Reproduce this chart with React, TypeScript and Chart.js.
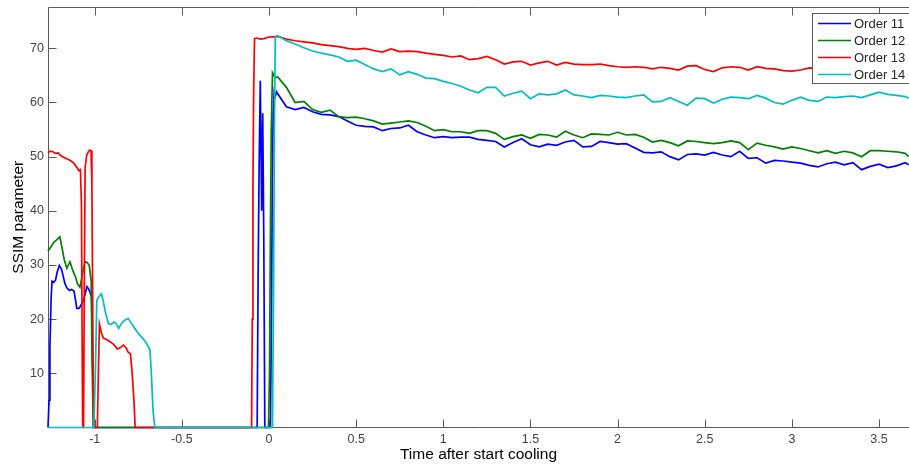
import React, { useEffect, useRef } from "react";
import { Chart, registerables } from "chart.js";

Chart.register(...registerables);

// ---- axes ----
const X_MIN = -1.268;
const X_MAX = 3.672;
const Y_MIN = 0;
const Y_MAX = 77.63;
const X_TICKS = [-1, -0.5, 0, 0.5, 1, 1.5, 2, 2.5, 3, 3.5];
const Y_TICKS = [10, 20, 30, 40, 50, 60, 70];
const X_TITLE = "Time after start cooling";
const Y_TITLE = "SSIM parameter";

const SERIES_NAMES = ["Order 11", "Order 12", "Order 13", "Order 14"];
const SERIES_COLORS = ["#0000ff", "#008000", "#ff0000", "#00bfbf"];

// ---- shared time grid for the long plateau part ----
const T_MAIN = [
  0.05, 0.1, 0.15, 0.2, 0.25, 0.3, 0.35, 0.4, 0.45, 0.5,
  0.55, 0.6, 0.65, 0.7, 0.75, 0.8, 0.85, 0.9, 0.95, 1.0,
  1.05, 1.1, 1.15, 1.2, 1.25, 1.3, 1.35, 1.4, 1.45, 1.5,
  1.55, 1.6, 1.65, 1.7, 1.75, 1.8, 1.85, 1.9, 1.95, 2.0,
  2.05, 2.1, 2.15, 2.2, 2.25, 2.3, 2.35, 2.4, 2.45, 2.5,
  2.55, 2.6, 2.65, 2.7, 2.75, 2.8, 2.85, 2.9, 2.95, 3.0,
  3.05, 3.1, 3.15, 3.2, 3.25, 3.3, 3.35, 3.4, 3.45, 3.5,
  3.55, 3.6, 3.65, 3.67,
];

// ---- Order 11 (blue) ----
const EARLY_T_11 = [
  -1.268, -1.262, -1.257, -1.25, -1.245, -1.235, -1.225, -1.215, -1.203, -1.19,
  -1.18, -1.171, -1.16, -1.145, -1.133, -1.119, -1.11, -1.103, -1.09, -1.084,
  -1.069, -1.056, -1.045, -1.035, -1.027, -1.018, -1.012, -1.004,
  -0.068, -0.062, -0.056, -0.05, -0.046, -0.042, -0.036, -0.03, -0.024,
  0.008, 0.014, 0.019, 0.024, 0.03, 0.036, 0.044,
];
const EARLY_V_11 = [
  0, 5, 15, 24, 27.0, 26.8, 27.2, 28.7, 29.9, 29.2,
  27.8, 26.6, 25.8, 25.3, 25.5, 25.2, 23.5, 22.0, 22.0, 22.3,
  23.2, 24.5, 26.0, 25.6, 25.0, 24.0, 12, 0,
  0, 30, 50, 64, 64, 40, 58, 35, 0,
  0, 20, 45, 58, 62, 61.2, 62.0,
];
const MAIN_V_11 = [
  61.6, 59.2, 58.7, 59.1, 58.3, 57.8, 57.7, 57.4, 56.6, 55.8,
  55.6, 55.5, 54.8, 55.2, 55.3, 55.8, 54.6, 54.0, 53.5, 53.7,
  53.5, 53.6, 53.6, 53.2, 53.0, 52.8, 51.8, 52.6, 53.3, 52.2,
  51.8, 52.3, 52.1, 52.7, 53.0, 51.8, 51.9, 52.8, 52.6, 52.3,
  52.4, 51.6, 50.8, 50.7, 50.9, 50.0, 49.4, 50.4, 50.5, 50.3,
  50.8, 50.3, 50.0, 51.0, 49.7, 49.8, 48.8, 49.3, 49.2, 49.0,
  48.8, 48.4, 48.1, 48.7, 49.0, 48.5, 48.9, 47.6, 48.2, 48.6,
  48.0, 48.3, 48.9, 48.5,
];

// ---- Order 12 (green) ----
const EARLY_T_12 = [
  -1.268, -1.25, -1.235, -1.22, -1.2, -1.19, -1.175, -1.16, -1.142, -1.125,
  -1.11, -1.1, -1.085, -1.075, -1.065, -1.055, -1.045, -1.032, -1.02, -1.015,
  -1.008, -0.003, 0.003, 0.008, 0.013, 0.02, 0.03, 0.04,
];
const EARLY_V_12 = [
  32.6, 33.4, 34.2, 34.6, 35.2, 33.6, 31.0, 29.4, 30.6, 28.9,
  27.8, 26.6, 25.9, 27.5, 29.3, 30.6, 30.5, 30.0, 27.0, 12,
  0, 0, 10, 35, 55, 65.5, 64.9, 64.6,
];
const MAIN_V_12 = [
  64.7, 62.8, 60.0, 60.2, 58.7, 58.2, 58.6, 57.4, 57.2, 57.3,
  57.0, 56.6, 56.0, 56.2, 56.4, 56.6, 56.3, 55.6, 54.8, 55.0,
  54.6, 54.6, 54.3, 54.8, 54.8, 54.3, 53.2, 53.7, 54.0, 53.4,
  54.1, 54.0, 53.6, 54.7, 54.0, 53.5, 54.2, 54.1, 54.0, 54.5,
  54.0, 54.1, 53.6, 52.7, 53.0, 52.6, 52.0, 52.9, 52.8, 52.6,
  52.4, 52.6, 52.9, 52.6, 51.3, 52.5, 52.1, 51.8, 51.4, 51.8,
  51.5, 51.1, 50.7, 51.1, 50.6, 51.0, 50.7, 50.0, 51.1, 51.1,
  51.0, 50.9, 50.6, 50.0,
];

// ---- Order 13 (red) ----
const EARLY_T_13 = [
  -1.268, -1.255, -1.24, -1.225, -1.21, -1.195, -1.18, -1.16, -1.14, -1.12,
  -1.1, -1.09, -1.082, -1.076, -1.072, -1.069, -1.064, -1.06, -1.055, -1.046,
  -1.031, -1.021, -1.016, -1.012, -1.007, -0.985, -0.979, -0.973, -0.962, -0.95,
  -0.93, -0.91, -0.89, -0.87, -0.855, -0.835, -0.82, -0.81, -0.795, -0.785,
  -0.775, -0.768, -0.1, -0.096, -0.092, -0.088, -0.083, -0.07, -0.05, -0.03,
  -0.01, 0.01, 0.03,
];
const EARLY_V_13 = [
  50.7, 51.0, 50.9, 50.6, 50.7, 50.2, 49.9, 49.6, 49.3, 48.8,
  47.9, 47.4, 47.6, 41, 15, 0, 0, 25, 48, 50.3,
  51.2, 51.1, 44.5, 25, 0, 0, 10, 19.1, 17.5, 16.5,
  16.2, 15.8, 15.3, 14.5, 14.7, 15.2, 14.7, 14.0, 13.6, 10,
  5, 0, 0, 20, 45, 62, 71.8, 71.9, 71.7, 71.8,
  72.0, 72.1, 72.1,
];
const MAIN_V_13 = [
  72.2, 71.7, 71.4, 71.2, 71.0, 70.7, 70.5, 70.3, 70.0, 69.8,
  70.0, 69.6, 69.3, 69.9, 69.4, 69.5, 69.4, 69.1, 68.9, 68.7,
  68.4, 68.6, 67.9, 68.1, 68.5, 67.9, 67.1, 67.5, 67.6, 66.9,
  67.3, 67.6, 66.9, 67.4, 67.1, 67.0, 67.0, 67.1, 66.8, 66.6,
  66.5, 66.6, 66.5, 66.2, 66.5, 66.3, 66.0, 66.7, 66.8, 66.1,
  65.7, 66.4, 66.6, 66.5, 66.0, 66.6, 66.3, 66.2, 65.9, 65.8,
  66.0, 66.4, 66.2, 66.0, 65.9, 66.1, 65.8, 66.0, 65.7, 65.9,
  65.8, 65.6, 65.8, 65.7,
];

// ---- Order 14 (cyan) ----
const EARLY_T_14 = [
  -1.268, -1.005, -0.995, -0.988, -0.975, -0.962, -0.952, -0.94, -0.922, -0.905,
  -0.89, -0.878, -0.862, -0.85, -0.835, -0.82, -0.807, -0.795, -0.78, -0.76,
  -0.74, -0.72, -0.7, -0.683, -0.675, -0.665, -0.655, 0.02, 0.026, 0.031,
  0.036, 0.043,
];
const EARLY_V_14 = [
  0, 0, 12, 23.5, 24.2, 24.7, 23.5, 21.5, 19.2, 19.0,
  19.5, 19.2, 18.3, 19.0, 19.6, 20.0, 20.1, 19.5, 18.8, 17.8,
  17.0, 16.3, 15.4, 14.3, 10, 3, 0, 0, 25, 55,
  72.0, 72.3,
];
const MAIN_V_14 = [
  72.3, 71.4, 70.8, 70.1, 69.5, 69.1, 68.8, 68.4, 67.6, 67.8,
  67.0, 66.2, 65.7, 66.2, 65.1, 65.7, 65.2, 64.5, 64.4, 63.9,
  63.5, 63.0, 62.3, 61.8, 62.8, 62.8, 61.2, 61.7, 62.1, 60.7,
  61.6, 61.4, 61.6, 62.3, 61.4, 61.2, 60.9, 61.3, 61.2, 61.0,
  60.9, 61.2, 61.4, 60.1, 60.2, 60.9, 60.2, 59.5, 60.8, 60.7,
  59.9, 60.6, 61.0, 60.9, 60.7, 61.3, 60.8, 60.0, 59.7, 60.4,
  61.0, 60.4, 60.2, 61.0, 60.9, 61.1, 61.2, 60.9, 61.4, 61.9,
  61.5, 61.3, 61.1, 60.8,
];

const SERIES_EARLY_T = [EARLY_T_11, EARLY_T_12, EARLY_T_13, EARLY_T_14];
const SERIES_EARLY_V = [EARLY_V_11, EARLY_V_12, EARLY_V_13, EARLY_V_14];
const SERIES_MAIN_V = [MAIN_V_11, MAIN_V_12, MAIN_V_13, MAIN_V_14];

const FONT = "'Liberation Sans', Arial, sans-serif";
const AXIS_COLOR = "#5a5a5a";
const TICK_TEXT = "#444444";

function buildPoints(i: number) {
  const pts: { x: number; y: number }[] = [];
  SERIES_EARLY_T[i].forEach((t, k) => pts.push({ x: t, y: SERIES_EARLY_V[i][k] }));
  T_MAIN.forEach((t, k) => pts.push({ x: t, y: SERIES_MAIN_V[i][k] }));
  return pts;
}

const framePlugin = {
  id: "matlabFrame",
  beforeDatasetsDraw(chart: any) {
    const { ctx, chartArea: a, scales } = chart;
    const L = Math.round(a.left) + 0.5;
    const T = Math.round(a.top) + 0.5;
    const B = Math.round(a.bottom) - 0.5;
    const R = a.right + 5;
    ctx.save();
    ctx.strokeStyle = AXIS_COLOR;
    ctx.lineWidth = 1;
    ctx.beginPath();
    ctx.moveTo(R, T);
    ctx.lineTo(L, T);
    ctx.lineTo(L, B);
    ctx.lineTo(R, B);
    X_TICKS.forEach((v) => {
      const px = Math.round(scales.x.getPixelForValue(v)) + 0.5;
      ctx.moveTo(px, B);
      ctx.lineTo(px, B - 8);
      ctx.moveTo(px, T);
      ctx.lineTo(px, T + 8);
    });
    Y_TICKS.forEach((v) => {
      const py = Math.round(scales.y.getPixelForValue(v)) + 0.5;
      ctx.moveTo(L, py);
      ctx.lineTo(L + 8, py);
    });
    ctx.stroke();
    ctx.restore();
  },
  afterDraw(chart: any) {
    const { ctx } = chart;
    const lx = 812.5;
    const ly = 13.5;
    ctx.save();
    ctx.fillStyle = "#ffffff";
    ctx.fillRect(lx, ly, 110, 70);
    ctx.strokeStyle = AXIS_COLOR;
    ctx.lineWidth = 1;
    ctx.strokeRect(lx, ly, 110, 70);
    ctx.font = `13px ${FONT}`;
    ctx.textBaseline = "middle";
    ctx.textAlign = "left";
    SERIES_NAMES.forEach((name, i) => {
      const y = 23.5 + i * 17;
      ctx.strokeStyle = SERIES_COLORS[i];
      ctx.lineWidth = 1.6;
      ctx.beginPath();
      ctx.moveTo(818, y);
      ctx.lineTo(851, y);
      ctx.stroke();
      ctx.fillStyle = "#262626";
      ctx.fillText(name, 854, y + 0.5);
    });
    ctx.restore();
  },
};

export default function App() {
  const ref = useRef<HTMLCanvasElement | null>(null);
  useEffect(() => {
    if (!ref.current) return;
    const chart = new Chart(ref.current, {
      type: "line",
      data: {
        datasets: SERIES_NAMES.map((name, i) => ({
          label: name,
          data: buildPoints(i),
          borderColor: SERIES_COLORS[i],
          backgroundColor: SERIES_COLORS[i],
          borderWidth: 1.7,
          pointRadius: 0,
          tension: 0,
          fill: false,
          clip: false as any,
          order: 4 - i,
        })),
      },
      options: {
        animation: false,
        responsive: false,
        devicePixelRatio: 1,
        events: [],
        layout: { padding: { top: 7, left: 0, right: 0, bottom: 0 } },
        plugins: { legend: { display: false }, tooltip: { enabled: false } },
        scales: {
          x: {
            type: "linear",
            min: X_MIN,
            max: X_MAX,
            grid: { display: false, drawTicks: false },
            border: { display: false },
            afterBuildTicks: (s: any) => {
              s.ticks = X_TICKS.map((value) => ({ value }));
            },
            afterFit: (s: any) => {
              s.height = 38.5;
              s.paddingLeft = 0;
              s.paddingRight = 0;
            },
            ticks: {
              autoSkip: false,
              maxRotation: 0,
              padding: 5,
              color: TICK_TEXT,
              font: { family: FONT, size: 12.5 },
              callback: (v: any) => String(Math.round(Number(v) * 10) / 10),
            },
            title: {
              display: true,
              text: X_TITLE,
              color: "#000",
              font: { family: FONT, size: 15.5 },
              padding: { top: 0, bottom: 2 },
            },
          },
          y: {
            type: "linear",
            min: Y_MIN,
            max: Y_MAX,
            grid: { display: false, drawTicks: false },
            border: { display: false },
            afterBuildTicks: (s: any) => {
              s.ticks = Y_TICKS.map((value) => ({ value }));
            },
            afterFit: (s: any) => {
              s.width = 48;
              s.paddingTop = 0;
              s.paddingBottom = 0;
            },
            ticks: {
              autoSkip: false,
              padding: 4,
              color: TICK_TEXT,
              font: { family: FONT, size: 12.5 },
              callback: (v: any) => String(v),
            },
            title: {
              display: true,
              text: Y_TITLE,
              color: "#000",
              font: { family: FONT, size: 15.5 },
              padding: { top: 9, bottom: 0 },
            },
          },
        },
      },
      plugins: [framePlugin],
    });
    return () => chart.destroy();
  }, []);

  return (
    <div style={{ position: "absolute", left: 0, top: 0, width: 909, height: 466, background: "#fff" }}>
      <canvas ref={ref} width={909} height={466} style={{ display: "block" }} />
    </div>
  );
}
